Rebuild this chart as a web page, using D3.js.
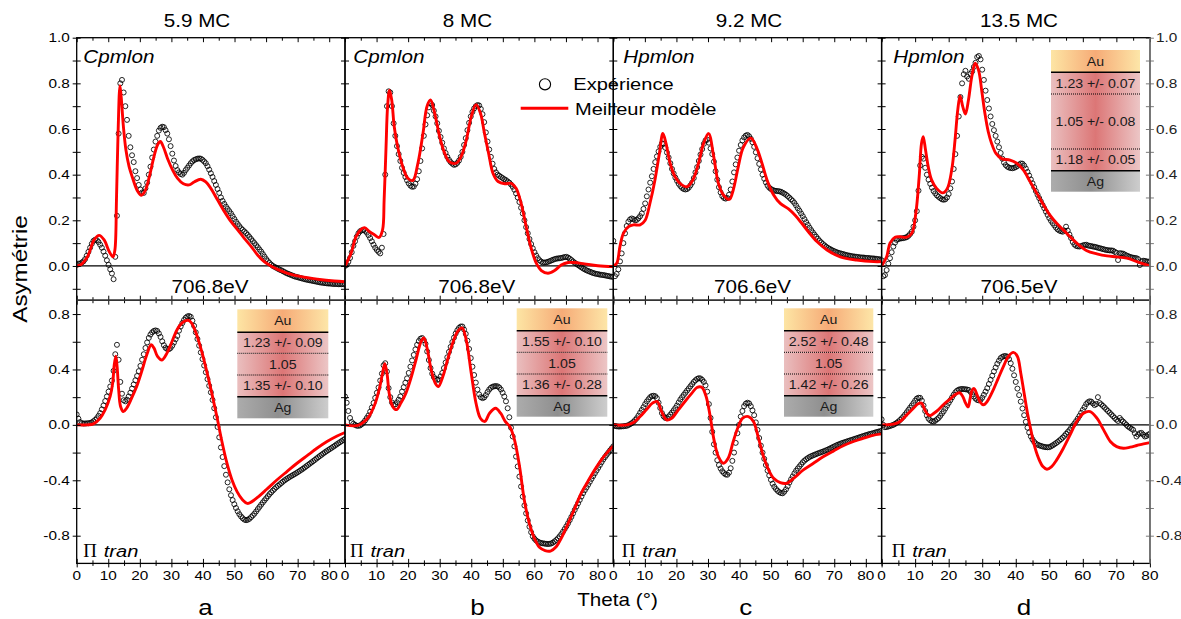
<!DOCTYPE html>
<html><head><meta charset="utf-8">
<script src="https://cdn.jsdelivr.net/npm/d3@7/dist/d3.min.js"></script>
<style>body{margin:0;background:#fff}</style>
</head><body>
<svg id="chart" width="1181" height="619"></svg>
<script>
// ---------------- DATA ----------------
const columnTitles = ["5.9 MC", "8 MC", "9.2 MC", "13.5 MC"];
const energyLabels = ["706.8eV", "706.8eV", "706.6eV", "706.5eV"];
const topLabels = ["Cpmlon", "Cpmlon", "Hpmlon", "Hpmlon"];
const panelLetters = ["a", "b", "c", "d"];
const thetaMax = [85, 85, 85, 80];
const expPoints = 161; // measured angles per scan, evenly spaced from 0 to thetaMax
const topTicksY = [0, 0.2, 0.4, 0.6, 0.8, 1.0];
const botTicksY = [-0.8, -0.4, 0, 0.4, 0.8];
const xTickLabels = [0, 10, 20, 30, 40, 50, 60, 70, 80];

// Experiment (circles) — top row (Cpmlon / Hpmlon)
const expTopA = [0.005,0.01,0.01,0.015,0.02,0.03,0.045,0.062,0.08,0.097,0.11,0.115,0.113,0.105,0.093,0.08,0.063,0.045,0.025,0.005,-0.015,
-0.033,-0.058,0.04,0.22,0.58,0.80,0.815,0.76,0.70,0.64,0.57,0.52,0.485,0.455,0.415,0.385,0.355,0.335,0.322,0.32,
0.34,0.365,0.40,0.435,0.475,0.51,0.545,0.57,0.593,0.605,0.61,0.608,0.595,0.58,0.555,0.525,0.492,0.462,0.438,0.42,
0.41,0.403,0.40,0.408,0.42,0.43,0.44,0.45,0.458,0.464,0.467,0.47,0.471,0.47,0.465,0.458,0.45,0.437,0.422,0.406,
0.39,0.372,0.355,0.337,0.32,0.30,0.285,0.272,0.26,0.25,0.24,0.23,0.218,0.206,0.194,0.184,0.174,0.165,0.158,0.151,
0.144,0.136,0.127,0.118,0.109,0.10,0.091,0.082,0.072,0.063,0.052,0.041,0.03,0.021,0.013,0.006,0,-0.004,-0.008,-0.012,
-0.016,-0.019,-0.023,-0.027,-0.031,-0.034,-0.037,-0.04,-0.043,-0.046,-0.048,-0.05,-0.052,-0.054,-0.056,-0.058,-0.06,-0.061,-0.063,-0.064,
-0.066,-0.067,-0.069,-0.07,-0.072,-0.073,-0.074,-0.075,-0.076,-0.077,-0.077,-0.078,-0.079,-0.079,-0.079,-0.08,-0.08,-0.08,-0.08,-0.08];
const expTopB = [0,0.005,0.018,0.035,0.06,0.088,0.108,0.128,0.143,0.152,0.156,0.157,0.154,0.146,0.135,0.122,0.108,0.093,0.08,0.07,0.062,
0.055,0.08,0.14,0.40,0.70,0.765,0.76,0.70,0.625,0.57,0.525,0.49,0.46,0.43,0.408,0.39,0.375,0.362,0.352,0.347,
0.348,0.36,0.38,0.415,0.46,0.515,0.57,0.62,0.66,0.695,0.712,0.705,0.68,0.655,0.625,0.592,0.565,0.54,0.515,0.495,
0.478,0.465,0.455,0.448,0.443,0.445,0.452,0.462,0.478,0.50,0.53,0.56,0.595,0.627,0.655,0.675,0.69,0.70,0.705,0.703,
0.688,0.665,0.63,0.585,0.545,0.51,0.478,0.448,0.425,0.41,0.40,0.395,0.39,0.385,0.38,0.376,0.37,0.365,0.357,0.347,
0.334,0.318,0.30,0.28,0.255,0.23,0.20,0.17,0.143,0.118,0.096,0.077,0.06,0.046,0.034,0.025,0.019,0.015,0.015,0.016,
0.018,0.021,0.024,0.027,0.03,0.032,0.033,0.034,0.035,0.037,0.039,0.04,0.037,0.032,0.026,0.02,0.014,0.009,0.004,-0.001,
-0.006,-0.011,-0.015,-0.019,-0.022,-0.025,-0.028,-0.031,-0.033,-0.035,-0.036,-0.038,-0.039,-0.04,-0.041,-0.043,-0.044,-0.046,-0.047,-0.048];
const expTopC = [0.11,-0.045,-0.035,-0.015,0.02,0.055,0.1,0.143,0.175,0.194,0.204,0.208,0.205,0.2,0.202,0.209,0.218,0.23,0.25,0.274,0.305,
0.335,0.365,0.393,0.425,0.455,0.48,0.502,0.522,0.537,0.535,0.518,0.497,0.475,0.45,0.425,0.405,0.387,0.373,0.36,0.35,
0.342,0.337,0.335,0.337,0.343,0.353,0.365,0.385,0.41,0.433,0.46,0.488,0.512,0.535,0.55,0.553,0.54,0.515,0.49,0.457,
0.415,0.378,0.345,0.322,0.306,0.298,0.295,0.298,0.312,0.335,0.37,0.41,0.445,0.475,0.505,0.53,0.55,0.563,0.571,0.574,
0.568,0.557,0.542,0.522,0.498,0.472,0.447,0.423,0.4,0.382,0.366,0.352,0.343,0.337,0.333,0.33,0.329,0.328,0.327,0.325,
0.321,0.317,0.312,0.306,0.299,0.292,0.285,0.276,0.265,0.253,0.242,0.23,0.218,0.205,0.192,0.18,0.168,0.157,0.147,0.137,
0.128,0.119,0.11,0.103,0.096,0.09,0.084,0.079,0.075,0.071,0.067,0.064,0.061,0.058,0.056,0.054,0.052,0.05,0.048,0.046,
0.045,0.043,0.042,0.041,0.04,0.039,0.038,0.037,0.037,0.036,0.035,0.035,0.034,0.033,0.033,0.032,0.031,0.03,0.029,0.028];
const expTopD = [0.025,-0.045,-0.04,-0.018,0.01,0.034,0.06,0.085,0.102,0.114,0.118,0.12,0.121,0.122,0.124,0.126,0.132,0.14,0.15,0.172,0.2,
0.24,0.33,0.44,0.478,0.47,0.43,0.4,0.378,0.36,0.343,0.328,0.318,0.309,0.303,0.297,0.292,0.29,0.292,0.3,0.315,
0.34,0.37,0.425,0.49,0.57,0.655,0.74,0.8,0.84,0.855,0.83,0.82,0.842,0.852,0.872,0.89,0.915,0.92,0.905,0.86,
0.815,0.768,0.727,0.69,0.655,0.622,0.595,0.57,0.545,0.52,0.495,0.47,0.453,0.442,0.435,0.431,0.429,0.428,0.43,0.433,
0.438,0.444,0.449,0.448,0.44,0.427,0.412,0.396,0.379,0.362,0.345,0.328,0.312,0.297,0.282,0.267,0.253,0.238,0.224,0.21,
0.198,0.188,0.178,0.168,0.16,0.155,0.152,0.15,0.155,0.172,0.155,0.138,0.122,0.105,0.094,0.088,0.086,0.085,0.087,0.09,
0.092,0.093,0.09,0.088,0.087,0.085,0.084,0.082,0.08,0.078,0.076,0.074,0.072,0.07,0.069,0.068,0.068,0.067,0.062,0.058,
0.026,0.056,0.055,0.054,0.05,0.046,0.043,0.04,0.038,0.036,0.035,0.034,0.03,0.004,0.02,0.023,0.022,0.02,0.019,0.018];

// Experiment (circles) — bottom row (Π tran)
const expBotA = [0.075,0.045,0.02,0.012,0.01,0.01,0.011,0.012,0.014,0.018,0.026,0.036,0.048,0.065,0.085,0.112,0.14,0.172,0.205,0.24,0.277,
0.32,0.39,0.51,0.578,0.47,0.31,0.225,0.178,0.17,0.182,0.205,0.232,0.262,0.292,0.322,0.353,0.388,0.426,0.47,0.51,
0.555,0.595,0.628,0.652,0.668,0.678,0.682,0.678,0.66,0.635,0.603,0.575,0.556,0.547,0.546,0.555,0.572,0.594,0.618,0.642,
0.68,0.71,0.735,0.757,0.773,0.783,0.786,0.78,0.752,0.715,0.668,0.62,0.572,0.523,0.475,0.428,0.38,0.33,0.282,0.235,
0.18,0.12,0.055,-0.015,-0.09,-0.163,-0.232,-0.298,-0.36,-0.415,-0.465,-0.508,-0.543,-0.573,-0.6,-0.624,-0.645,-0.661,-0.674,-0.684,
-0.688,-0.685,-0.678,-0.666,-0.654,-0.641,-0.625,-0.608,-0.592,-0.576,-0.56,-0.545,-0.53,-0.515,-0.5,-0.487,-0.474,-0.462,-0.45,-0.44,
-0.43,-0.42,-0.41,-0.4,-0.392,-0.384,-0.376,-0.369,-0.362,-0.355,-0.348,-0.34,-0.332,-0.324,-0.316,-0.307,-0.298,-0.289,-0.28,-0.271,
-0.262,-0.253,-0.243,-0.234,-0.225,-0.216,-0.207,-0.198,-0.19,-0.182,-0.174,-0.166,-0.158,-0.15,-0.141,-0.133,-0.125,-0.117,-0.109,-0.101];
const expBotB = [0.205,0.16,0.1,0.05,0.02,0.008,0,-0.006,-0.007,-0.004,0.005,0.016,0.032,0.05,0.068,0.095,0.125,0.158,0.195,0.232,0.27,
0.32,0.37,0.43,0.445,0.385,0.265,0.2,0.162,0.145,0.148,0.163,0.182,0.205,0.24,0.272,0.304,0.336,0.375,0.42,0.465,
0.505,0.545,0.578,0.605,0.622,0.627,0.612,0.585,0.53,0.468,0.41,0.37,0.345,0.332,0.325,0.328,0.35,0.375,0.41,0.45,
0.488,0.527,0.563,0.598,0.63,0.66,0.683,0.7,0.71,0.71,0.688,0.657,0.608,0.548,0.482,0.42,0.36,0.305,0.255,0.22,
0.2,0.193,0.198,0.215,0.237,0.255,0.268,0.275,0.279,0.28,0.278,0.27,0.255,0.232,0.205,0.17,0.12,0.055,-0.02,-0.084,
-0.155,-0.229,-0.3,-0.373,-0.445,-0.518,-0.582,-0.639,-0.69,-0.735,-0.775,-0.805,-0.822,-0.835,-0.843,-0.849,-0.853,-0.855,-0.857,-0.859,
-0.86,-0.859,-0.856,-0.85,-0.841,-0.831,-0.819,-0.805,-0.789,-0.771,-0.752,-0.732,-0.711,-0.688,-0.664,-0.639,-0.614,-0.59,-0.566,-0.542,
-0.517,-0.493,-0.472,-0.452,-0.432,-0.411,-0.39,-0.37,-0.35,-0.33,-0.31,-0.29,-0.27,-0.25,-0.233,-0.217,-0.201,-0.185,-0.17,-0.155];
const expBotC = [-0.005,-0.008,-0.01,-0.012,-0.012,-0.011,-0.01,-0.008,-0.007,-0.002,0.005,0.012,0.022,0.035,0.048,0.067,0.088,0.108,0.128,0.15,0.169,
0.185,0.2,0.208,0.21,0.207,0.193,0.16,0.122,0.085,0.062,0.05,0.048,0.06,0.074,0.089,0.105,0.122,0.14,0.162,0.183,
0.2,0.216,0.232,0.248,0.263,0.279,0.294,0.31,0.322,0.332,0.337,0.335,0.325,0.31,0.285,0.24,0.15,0.05,-0.05,-0.14,
-0.2,-0.255,-0.29,-0.315,-0.335,-0.348,-0.358,-0.36,-0.345,-0.313,-0.26,-0.2,-0.13,-0.06,0,0.06,0.1,0.135,0.153,0.16,
0.155,0.135,0.105,0.07,0.018,-0.036,-0.095,-0.15,-0.2,-0.245,-0.29,-0.33,-0.365,-0.397,-0.425,-0.447,-0.463,-0.476,-0.486,-0.492,
-0.494,-0.482,-0.465,-0.443,-0.417,-0.393,-0.372,-0.35,-0.331,-0.315,-0.3,-0.285,-0.27,-0.258,-0.248,-0.24,-0.232,-0.226,-0.221,-0.216,
-0.211,-0.206,-0.202,-0.197,-0.193,-0.188,-0.183,-0.178,-0.172,-0.166,-0.16,-0.154,-0.148,-0.143,-0.138,-0.133,-0.129,-0.125,-0.121,-0.117,
-0.113,-0.109,-0.105,-0.101,-0.097,-0.093,-0.089,-0.085,-0.081,-0.077,-0.073,-0.069,-0.066,-0.063,-0.06,-0.056,-0.052,-0.049,-0.046,-0.043];
const expBotD = [0.04,0,-0.017,-0.015,-0.012,-0.008,-0.004,0,0.007,0.015,0.024,0.035,0.047,0.06,0.075,0.091,0.108,0.124,0.14,0.157,0.175,
0.19,0.196,0.195,0.175,0.14,0.1,0.068,0.045,0.033,0.026,0.024,0.03,0.04,0.05,0.065,0.082,0.098,0.118,0.138,0.158,
0.178,0.198,0.218,0.235,0.247,0.254,0.258,0.259,0.258,0.257,0.255,0.252,0.238,0.222,0.205,0.19,0.18,0.177,0.18,0.196,
0.217,0.24,0.265,0.295,0.325,0.355,0.386,0.414,0.441,0.463,0.482,0.491,0.496,0.497,0.492,0.475,0.445,0.405,0.358,0.31,
0.262,0.215,0.168,0.118,0.07,0.022,-0.02,-0.055,-0.083,-0.105,-0.123,-0.135,-0.143,-0.148,-0.152,-0.156,-0.159,-0.161,-0.162,-0.161,
-0.155,-0.148,-0.14,-0.132,-0.123,-0.113,-0.103,-0.092,-0.079,-0.065,-0.052,-0.038,-0.022,-0.005,0.01,0.027,0.045,0.065,0.087,0.108,
0.128,0.15,0.163,0.17,0.168,0.155,0.143,0.15,0.2,0.158,0.148,0.137,0.125,0.112,0.1,0.088,0.075,0.063,0.05,0.038,
0.028,0.05,0.035,0.024,0.012,0,-0.012,-0.02,-0.028,-0.036,-0.06,-0.084,-0.07,-0.06,-0.058,-0.07,-0.084,-0.08,-0.07,-0.065];

// Best model (red line) — [theta, value]
const modelTopA = [[0,0],[1.3,0.005],[3.4,0.04],[5.5,0.114],[7.1,0.134],[8.7,0.114],[10.3,0.063],[11.5,0.04],[12.1,0.07],[12.6,0.29],[13.1,0.58],[13.7,0.79],[14.1,0.74],[14.8,0.61],[15.6,0.508],[16.6,0.435],[17.6,0.39],[19.2,0.33],[20.5,0.31],[21.7,0.33],[23,0.39],[24.5,0.48],[25.6,0.53],[26.5,0.545],[27.5,0.52],[28.8,0.47],[30.4,0.42],[31.9,0.385],[33.8,0.36],[35.6,0.355],[37.2,0.368],[39.3,0.38],[40.9,0.368],[42.5,0.34],[44.6,0.29],[46.8,0.238],[48.9,0.194],[51,0.158],[53.1,0.121],[55.3,0.085],[57.3,0.048],[59.4,0.019],[61.5,0],[63.6,-0.015],[66.8,-0.032],[71.1,-0.047],[76.3,-0.058],[81.6,-0.066],[85,-0.069]];
const modelTopB = [[0,0],[1.9,0.055],[3.5,0.128],[5.1,0.16],[6.2,0.168],[7.8,0.15],[9.4,0.136],[10.8,0.125],[11.9,0.158],[12.4,0.29],[13,0.52],[13.5,0.7],[14.1,0.77],[14.8,0.727],[15.6,0.61],[16.7,0.52],[18.3,0.435],[19.9,0.384],[21.5,0.375],[23.1,0.45],[24.7,0.58],[26,0.7],[27.1,0.727],[28.4,0.67],[30,0.566],[31.6,0.493],[33,0.457],[35.2,0.45],[36.8,0.48],[38.4,0.55],[40,0.654],[41.5,0.707],[42.9,0.67],[44.2,0.58],[45.5,0.493],[46.9,0.405],[48.5,0.37],[50.6,0.36],[52.7,0.362],[54.2,0.34],[55.8,0.274],[57.4,0.172],[59,0.077],[60.6,0.012],[62.2,-0.02],[64.3,-0.032],[66.4,-0.02],[68.5,0.004],[70.7,0.015],[72.8,0.015],[75.9,0.009],[80.1,0.001],[85,-0.003]];
const modelTopC = [[0,0],[1.1,0.012],[2.1,0.085],[3.2,0.143],[4.8,0.172],[6.4,0.18],[8.5,0.18],[10.1,0.2],[11.6,0.274],[13.2,0.377],[14.6,0.493],[15.7,0.58],[16.7,0.537],[18,0.45],[19.6,0.39],[21.7,0.355],[23.3,0.347],[25.2,0.377],[27,0.45],[28.6,0.537],[30.2,0.58],[31.8,0.48],[33.3,0.362],[34.9,0.311],[36.8,0.292],[38,0.333],[39.6,0.435],[41.2,0.52],[43.6,0.56],[45.5,0.515],[47.1,0.45],[48.7,0.377],[50.8,0.311],[52.9,0.274],[55.5,0.25],[57.6,0.222],[59.7,0.187],[61.8,0.15],[64.5,0.107],[67.7,0.07],[71.9,0.04],[77.1,0.026],[82.5,0.019],[85,0.019]];
const modelTopD = [[0,0],[1.5,0.04],[2.5,0.1],[4,0.126],[5.5,0.128],[7.5,0.126],[9,0.143],[10.2,0.23],[11.2,0.39],[11.9,0.537],[12.4,0.566],[13.1,0.508],[13.9,0.435],[14.9,0.377],[16.4,0.34],[18.2,0.32],[19.6,0.34],[20.9,0.42],[21.9,0.552],[22.7,0.683],[23.4,0.745],[24.2,0.698],[25,0.666],[25.9,0.727],[26.9,0.83],[27.9,0.888],[28.9,0.858],[29.9,0.763],[30.8,0.669],[31.8,0.588],[32.8,0.537],[34.1,0.493],[35.8,0.47],[38.3,0.464],[40.3,0.45],[42.3,0.42],[44.3,0.369],[46.3,0.318],[48.3,0.267],[50.2,0.223],[52.2,0.187],[54.2,0.158],[56.2,0.128],[58.2,0.1],[61.2,0.067],[64.2,0.053],[67.2,0.044],[70.1,0.04],[73.1,0.034],[76.1,0.019],[78.1,0.009],[80,0]];
const modelBotA = [[0,0],[3.2,0],[5.3,0.007],[7.4,0.048],[9,0.108],[10.6,0.205],[11.4,0.301],[11.9,0.434],[12.4,0.495],[12.8,0.42],[13.3,0.253],[13.9,0.133],[14.8,0.096],[15.8,0.12],[17.4,0.193],[19,0.277],[20.6,0.386],[22.2,0.506],[23.6,0.578],[24.5,0.554],[25.6,0.494],[27,0.468],[28.6,0.518],[30.2,0.602],[31.8,0.687],[33.3,0.735],[35.3,0.755],[36.4,0.735],[38,0.651],[39.6,0.53],[41.2,0.386],[42.8,0.229],[44.4,0.06],[46,-0.12],[47.6,-0.277],[49.2,-0.398],[50.8,-0.482],[52.4,-0.537],[54.1,-0.567],[55.5,-0.554],[57.6,-0.518],[60.2,-0.465],[63.4,-0.398],[66.6,-0.337],[69.8,-0.277],[73,-0.222],[76.1,-0.169],[79.3,-0.12],[82.5,-0.08],[85,-0.055]];
const modelBotB = [[0,0],[3,-0.007],[5.1,0.007],[7.2,0.048],[9.4,0.145],[10.8,0.253],[11.9,0.373],[12.6,0.441],[13.3,0.373],[14,0.229],[15.1,0.133],[16.3,0.11],[17.7,0.157],[19.3,0.229],[20.9,0.337],[22.5,0.47],[24.1,0.602],[25,0.627],[26,0.554],[27.3,0.398],[28.6,0.301],[29.6,0.277],[31,0.349],[32.5,0.47],[34.1,0.59],[35.7,0.675],[37.1,0.7],[38.4,0.614],[40,0.373],[41.5,0.157],[42.9,0.048],[44.3,0.025],[45.8,0.084],[47.7,0.12],[49.3,0.084],[50.8,0.024],[52.2,-0.012],[53.7,-0.108],[55.3,-0.301],[56.8,-0.542],[58.4,-0.711],[60,-0.819],[61.6,-0.884],[63.4,-0.908],[65.1,-0.911],[66.9,-0.88],[68.5,-0.819],[70.7,-0.711],[72.8,-0.602],[74.8,-0.494],[76.9,-0.41],[79.1,-0.325],[81.2,-0.253],[83.3,-0.193],[85,-0.152]];
const modelBotC = [[0,0],[4.3,0],[6.4,0.017],[8.5,0.06],[10.6,0.113],[12.4,0.157],[13.9,0.169],[15.3,0.096],[16.9,0.036],[18.5,0.048],[20.6,0.108],[22.7,0.169],[24.9,0.229],[26.5,0.27],[28,0.272],[29.4,0.205],[30.7,0.06],[31.9,-0.108],[33.3,-0.229],[34.9,-0.277],[36.4,-0.241],[38,-0.12],[39.6,-0.012],[41,0.048],[42.8,0.06],[44.4,0.024],[46,-0.096],[47.6,-0.229],[49.2,-0.325],[50.8,-0.386],[52.9,-0.417],[54.9,-0.422],[57.1,-0.386],[60.2,-0.325],[63.4,-0.277],[66.6,-0.229],[69.8,-0.188],[73,-0.149],[76.1,-0.12],[79.3,-0.096],[81.9,-0.077],[85,-0.065]];
const modelBotD = [[0,0],[3.5,0.005],[5.5,0.024],[7.5,0.072],[9.5,0.12],[10.9,0.152],[11.9,0.157],[12.9,0.108],[13.9,0.072],[14.6,0.068],[15.4,0.08],[16.9,0.108],[18.4,0.145],[20.4,0.186],[21.9,0.217],[23.3,0.232],[24.3,0.2],[25,0.16],[25.8,0.13],[26.4,0.19],[27,0.25],[27.6,0.262],[28.4,0.22],[29.4,0.165],[30.4,0.145],[31.5,0.17],[33.3,0.253],[34.8,0.337],[36.3,0.42],[37.8,0.494],[39.3,0.523],[40.5,0.494],[41.5,0.373],[42.5,0.229],[43.5,0.084],[44.5,-0.036],[45.5,-0.145],[46.8,-0.241],[48.1,-0.301],[49.3,-0.32],[50.7,-0.301],[52.2,-0.253],[54.2,-0.169],[56.2,-0.072],[58.2,0.024],[60.2,0.084],[62.2,0.096],[64.2,0.048],[66.2,-0.036],[68.2,-0.12],[70.1,-0.157],[72.1,-0.169],[74.1,-0.161],[76.1,-0.149],[78.1,-0.137],[80,-0.128]];

// Layer-model insets
const insetA = ["Au", "1.23 +/- 0.09", "1.05", "1.35 +/- 0.10", "Ag"];
const insetB = ["Au", "1.55 +/- 0.10", "1.05", "1.36 +/- 0.28", "Ag"];
const insetC = ["Au", "2.52 +/- 0.48", "1.05", "1.42 +/- 0.26", "Ag"];
const insetD = ["Au", "1.23 +/- 0.07", "1.05 +/- 0.08", "1.18 +/- 0.05", "Ag"];

// ---------------- LAYOUT ----------------
const FONT = '"Liberation Sans", Arial, Helvetica, sans-serif';
const SX = 1.18; // the source typeface is wide
const panelLeft = [76.7, 345, 613.3, 881.6];
const panelW = 268.3;
const topY0 = 37.7, midY = 300.2, botY1 = 563.4;

const svg = d3.select("#chart");
const defs = svg.append("defs");

function stext(parent, x, y, str, size, anchor, opts = {}) {
  const rot = opts.rotate ? ` rotate(${opts.rotate})` : "";
  return parent.append("text")
    .attr("transform", `translate(${x},${y})${rot} scale(${opts.sx ?? SX},1)`)
    .attr("text-anchor", anchor || "start")
    .attr("font-family", opts.family || FONT)
    .attr("font-size", size)
    .attr("font-style", opts.italic ? "italic" : "normal")
    .attr("fill", opts.fill || "#000")
    .text(str);
}

const yTop = d3.scaleLinear().domain([-0.15, 1.0]).range([midY, topY0]);
const yBot = d3.scaleLinear().domain([-1.0, 0.9]).range([botY1, midY]);
const xScales = thetaMax.map((m, i) => d3.scaleLinear().domain([0, m]).range([panelLeft[i], panelLeft[i] + panelW]));

const expTop = [expTopA, expTopB, expTopC, expTopD];
const expBot = [expBotA, expBotB, expBotC, expBotD];
const modTop = [modelTopA, modelTopB, modelTopC, modelTopD];
const modBot = [modelBotA, modelBotB, modelBotC, modelBotD];

// gradients for insets
function hgrad(id, stops) {
  const g = defs.append("linearGradient").attr("id", id).attr("x1", "0").attr("x2", "1").attr("y1", "0").attr("y2", "0");
  stops.forEach(([o, c]) => g.append("stop").attr("offset", o).attr("stop-color", c));
}
hgrad("gAu", [[0, "#fde5a4"], [0.5, "#f6ab77"], [1, "#fde6a8"]]);
hgrad("gMid", [[0, "#eabfbf"], [0.5, "#dc7676"], [1, "#ecc6c6"]]);
hgrad("gAg", [[0, "#acacac"], [0.45, "#8f8f8f"], [1, "#cdcdcd"]]);

// ---------------- PANELS ----------------
for (let c = 0; c < 4; c++) {
  const x = xScales[c];
  const step = thetaMax[c] / (expPoints - 1);
  [["top", yTop, expTop[c], modTop[c]], ["bot", yBot, expBot[c], modBot[c]]].forEach(([row, y, exp, mod]) => {
    const id = `clip-${c}-${row}`;
    defs.append("clipPath").attr("id", id).append("rect")
      .attr("x", x.range()[0]).attr("y", y.range()[1])
      .attr("width", panelW).attr("height", y.range()[0] - y.range()[1]);
    const g = svg.append("g").attr("clip-path", `url(#${id})`);
    g.append("line").attr("x1", x.range()[0]).attr("x2", x.range()[1])
      .attr("y1", y(0)).attr("y2", y(0)).attr("stroke", "#000").attr("stroke-width", 1.2);
    g.append("g").selectAll("circle").data(exp.map((v, i) => [i * step, v])).join("circle")
      .attr("cx", d => x(d[0])).attr("cy", d => y(d[1])).attr("r", 2.5)
      .attr("fill", "none").attr("stroke", "#000").attr("stroke-width", 0.85);
    g.append("path").datum(mod)
      .attr("d", d3.line().x(d => x(d[0])).y(d => y(d[1])).curve(d3.curveCatmullRom.alpha(0.5)))
      .attr("fill", "none").attr("stroke", "#ff0000").attr("stroke-width", 2.9).attr("stroke-linejoin", "round");
  });
}

// ---------------- TICKS & FRAMES ----------------
function tickLines(axisFn, scale, tx, ty, values, size, color) {
  svg.append("g").attr("transform", `translate(${tx},${ty})`)
    .call(axisFn(scale).tickValues(values).tickSize(size).tickFormat(""))
    .call(g => g.select(".domain").remove())
    .call(g => g.selectAll("line").attr("stroke", color || "#000").attr("stroke-width", 1));
}
for (let c = 0; c < 4; c++) {
  const x = xScales[c];
  const major = d3.range(0, thetaMax[c] + 0.01, 10);
  const minor = d3.range(5, thetaMax[c] + 0.01, 10);
  tickLines(d3.axisTop, x, 0, topY0, major, -4.5);
  tickLines(d3.axisTop, x, 0, topY0, minor, -3);
  tickLines(d3.axisBottom, x, 0, midY, major, -4.5);
  tickLines(d3.axisBottom, x, 0, midY, minor, -3);
  tickLines(d3.axisTop, x, 0, midY, major, -4.5);
  tickLines(d3.axisTop, x, 0, midY, minor, -3);
  tickLines(d3.axisBottom, x, 0, botY1, major, 4);
  tickLines(d3.axisBottom, x, 0, botY1, major, -4.5);
  tickLines(d3.axisBottom, x, 0, botY1, minor, -3);
  tickLines(d3.axisBottom, x, 0, botY1, minor, 2.5);
  xTickLabels.filter(v => v <= thetaMax[c]).forEach(v => {
    stext(svg, x(v), 580, String(v), 13, "middle");
  });
}
const vEdges = [...panelLeft, panelLeft[3] + panelW];
vEdges.forEach((ex, k) => {
  const col = k === 4 ? "#7a7a7a" : "#000";
  const topMajor = d3.range(-0.1, 1.001, 0.1).map(v => +v.toFixed(1));
  const botMajor = d3.range(-0.8, 0.81, 0.2).map(v => +v.toFixed(1));
  [4, -4].forEach(s => {
    tickLines(d3.axisLeft, yTop, ex, 0, topMajor, s, col);
    tickLines(d3.axisLeft, yBot, ex, 0, botMajor, s, col);
  });
});
for (let c = 0; c < 4; c++) {
  svg.append("rect").attr("x", panelLeft[c]).attr("y", topY0).attr("width", panelW).attr("height", botY1 - topY0)
    .attr("fill", "none").attr("stroke", "#000").attr("stroke-width", 1.3);
}
svg.append("line").attr("x1", panelLeft[0]).attr("x2", vEdges[4]).attr("y1", midY).attr("y2", midY)
  .attr("stroke", "#333").attr("stroke-width", 1.8);
svg.append("line").attr("x1", vEdges[4]).attr("x2", vEdges[4]).attr("y1", topY0).attr("y2", botY1)
  .attr("stroke", "#7a7a7a").attr("stroke-width", 1.6);

topTicksY.forEach(v => {
  stext(svg, panelLeft[0] - 7, yTop(v) + 4.6, v.toFixed(1), 13, "end");
  stext(svg, vEdges[4] + 6, yTop(v) + 4.6, v.toFixed(1), 13, "start", { fill: "#222" });
});
botTicksY.forEach(v => {
  stext(svg, panelLeft[0] - 7, yBot(v) + 4.6, v.toFixed(1), 13, "end");
  stext(svg, vEdges[4] + 6, yBot(v) + 4.6, v.toFixed(1), 13, "start", { fill: "#222" });
});

// ---------------- TEXT ----------------
const titleX = [197, 467.5, 749, 1019];
columnTitles.forEach((t, i) => stext(svg, titleX[i], 27.3, t, 17.5, "middle"));
const energyX = [210, 476.7, 752.5, 1019];
energyLabels.forEach((t, i) => stext(svg, energyX[i], 292.7, t, 17.5, "middle"));
const topLabelX = [83.3, 353.3, 623.3, 893.3];
topLabels.forEach((t, i) => stext(svg, topLabelX[i], 63, t, 17.5, "start", { italic: true }));
const piX = [83.3, 350, 621.7, 891.7];
piX.forEach(px => {
  stext(svg, px, 556.5, "Π", 18, "start", { family: '"Liberation Serif", "Times New Roman", serif', sx: 1.05 });
  stext(svg, px + 20.5, 556.5, "tran", 17, "start", { italic: true });
});
const letterX = [205.5, 477.5, 745.8, 1024];
panelLetters.forEach((t, i) => stext(svg, letterX[i], 615, t, 22, "middle"));
stext(svg, 617.5, 606, "Theta (°)", 17.5, "middle");
stext(svg, 27, 269, "Asymétrie", 20.5, "middle", { rotate: -90 });

// legend
svg.append("circle").attr("cx", 545).attr("cy", 84.3).attr("r", 5.6)
  .attr("fill", "none").attr("stroke", "#000").attr("stroke-width", 1.1);
stext(svg, 573.3, 89.8, "Expérience", 17, "start");
svg.append("line").attr("x1", 520.7).attr("x2", 568.3).attr("y1", 108.3).attr("y2", 108.3)
  .attr("stroke", "#ff0000").attr("stroke-width", 3);
stext(svg, 575, 115, "Meilleur modèle", 17, "start");

// ---------------- INSETS ----------------
function inset(labels, x, w, bounds) {
  const g = svg.append("g");
  const fills = ["url(#gAu)", "url(#gMid)", "url(#gMid)", "url(#gMid)", "url(#gAg)"];
  labels.forEach((lab, i) => {
    const y0 = bounds[i], y1 = bounds[i + 1];
    g.append("rect").attr("x", x).attr("y", y0).attr("width", w).attr("height", y1 - y0).attr("fill", fills[i]);
    stext(g, x + w / 2, (y0 + y1) / 2 + 4.4, lab, 12, "middle", { fill: "#1a1a1a" });
  });
  [1, 4].forEach(k => g.append("line").attr("x1", x).attr("x2", x + w).attr("y1", bounds[k]).attr("y2", bounds[k])
    .attr("stroke", "#000").attr("stroke-width", 1.4));
  [2, 3].forEach(k => g.append("line").attr("x1", x).attr("x2", x + w).attr("y1", bounds[k]).attr("y2", bounds[k])
    .attr("stroke", "#000").attr("stroke-width", 1).attr("stroke-dasharray", "1,1"));
}
inset(insetA, 237.3, 91, [309.3, 332.3, 353.3, 375, 396.7, 418.3]);
inset(insetB, 516.7, 90.6, [308.3, 330.7, 352.3, 374, 395.7, 416.7]);
inset(insetC, 784, 89.3, [308.3, 330.7, 352.3, 374, 395.7, 416.7]);
inset(insetD, 1051, 89, [50, 72.3, 94, 149, 170.7, 191.7]);
</script>
</body></html>
